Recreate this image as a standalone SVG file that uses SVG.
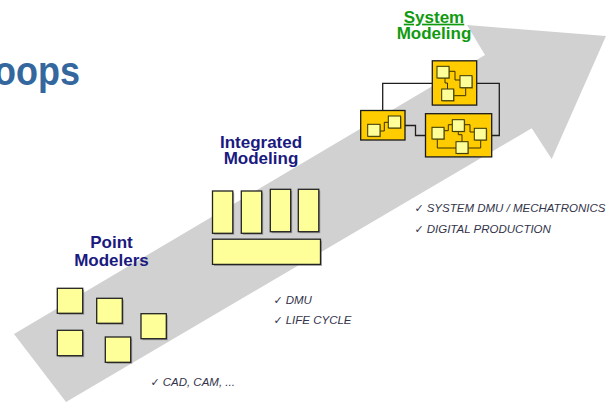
<svg xmlns="http://www.w3.org/2000/svg" width="611" height="402" viewBox="0 0 611 402">
<style>
.bg{fill:#ffffff}
.arrow{fill:#d1d1d1}
.title{font-family:"Liberation Sans",Arial,sans-serif;font-weight:bold;font-size:17px;text-anchor:middle}
.navy{fill:#1a1a80}
.green{fill:#109a10}
.head{font-family:"Liberation Sans",Arial,sans-serif;font-weight:bold;font-size:36px;fill:#34679e}
.bul{font-family:"Liberation Sans",Arial,sans-serif;font-style:italic;font-size:11.5px;fill:#33334a}
.ck{font-family:"DejaVu Sans",sans-serif;font-style:normal;font-size:11px}
.sq{fill:#ffff99;stroke:#222222;stroke-width:1.3}
.shd{fill:#6e6e6e;opacity:0.55}
.gold{fill:#ffcc00;stroke:#1a1a1a;stroke-width:1.3}
.mini{fill:#ffff99;stroke:#333300;stroke-width:1}
.mshd{fill:#8a7000;opacity:0.6}
.wire{fill:none;stroke:#3a3000;stroke-width:1}
.conn{fill:none;stroke:#1e1e1e;stroke-width:1.3}
</style>
<rect class="bg" x="0" y="0" width="611" height="402"/>
<polygon id="arrow" class="arrow" points="14,334 66,402 531.7,128.3 551.7,159 606,36 467,25 485,55"/>
<text class="head" transform="translate(-6,85) scale(1,1.15)" x="0" y="0">oops</text>

<g id="point-modelers">
<text class="title navy" x="111.5" y="248">Point</text>
<text class="title navy" x="111.5" y="266">Modelers</text>
</g>
<g id="pm1"><rect class="shd" x="58.8" y="289.8" width="25.4" height="25"/><rect class="sq" x="57.3" y="288.3" width="25.4" height="25"/></g>
<g id="pm2"><rect class="shd" x="98.2" y="299.8" width="25.6" height="25"/><rect class="sq" x="96.7" y="298.3" width="25.6" height="25"/></g>
<g id="pm3"><rect class="shd" x="142.5" y="315.2" width="25.3" height="25"/><rect class="sq" x="141" y="313.7" width="25.3" height="25"/></g>
<g id="pm4"><rect class="shd" x="58.8" y="331.8" width="25.4" height="25.4"/><rect class="sq" x="57.3" y="330.3" width="25.4" height="25.4"/></g>
<g id="pm5"><rect class="shd" x="106.8" y="338.5" width="25.4" height="25.3"/><rect class="sq" x="105.3" y="337" width="25.4" height="25.3"/></g>
<g id="pm-notes">
<text class="bul" x="150.5" y="386"><tspan class="ck">✓</tspan><tspan x="162.7">CAD, CAM, ...</tspan></text>
</g>

<g id="integrated-modeling">
<text class="title navy" x="261" y="147.7">Integrated</text>
<text class="title navy" x="261" y="164">Modeling</text>
</g>
<g id="im1"><rect class="shd" x="213.8" y="192.5" width="20.4" height="42.3"/><rect class="sq" x="212.5" y="191" width="20.3" height="42.3"/></g>
<g id="im2"><rect class="shd" x="242.8" y="192.5" width="20.4" height="42.3"/><rect class="sq" x="241.3" y="191" width="20.4" height="42.3"/></g>
<g id="im3"><rect class="shd" x="271.8" y="190.8" width="20.4" height="42.4"/><rect class="sq" x="270.3" y="189.3" width="20.4" height="42.4"/></g>
<g id="im4"><rect class="shd" x="299.8" y="190.8" width="20.5" height="42.4"/><rect class="sq" x="298.3" y="189.3" width="20.5" height="42.4"/></g>
<g id="im5"><rect class="shd" x="214" y="240.8" width="108" height="25.2"/><rect class="sq" x="212.5" y="239.2" width="108" height="25.2"/></g>
<g id="im-notes">
<text class="bul" x="273.5" y="304"><tspan class="ck">✓</tspan><tspan x="285.7">DMU</tspan></text>
<text class="bul" x="273.5" y="324"><tspan class="ck">✓</tspan><tspan x="285.7">LIFE CYCLE</tspan></text>
</g>

<g id="system-modeling">
<text class="title green" x="434" y="22.7" text-decoration="underline">System</text>
<text class="title green" x="434" y="39.3">Modeling</text>
</g>
<g id="connectors">
<polyline class="conn" points="432.3,83.3 382.7,83.3 382.7,110.5"/>
<polyline class="conn" points="476.7,83.3 499.3,83.3 499.3,135.5 491.7,135.5"/>
<polyline class="conn" points="405,125.5 415.5,125.5 415.5,135.5 425.5,135.5"/>
</g>
<g id="sm-top">
<rect class="gold" x="432.3" y="60.8" width="44.4" height="44.3"/>
<polyline class="wire" points="449,71.3 455,71.3 455,80 460,80"/>
<polyline class="wire" points="445,78 445,83 447.5,83 447.5,89"/>
<polyline class="wire" points="453.7,95.7 465.7,95.7 465.7,88"/>
<rect class="mshd" x="438" y="67.3" width="12" height="11.7"/><rect class="mini" x="437" y="66.3" width="12" height="11.7"/>
<rect class="mshd" x="461" y="76.7" width="12" height="12"/><rect class="mini" x="460" y="75.7" width="12" height="12"/>
<rect class="mshd" x="442.7" y="90" width="12" height="11.7"/><rect class="mini" x="441.7" y="89" width="12" height="11.7"/>
</g>
<g id="sm-left">
<rect class="gold" x="360.7" y="110.5" width="44.3" height="29.5"/>
<polyline class="wire" points="380,131 384.3,131 384.3,122.3 388.3,122.3"/>
<rect class="mshd" x="368.7" y="125.3" width="12.3" height="12"/><rect class="mini" x="367.7" y="124.3" width="12.3" height="12"/>
<rect class="mshd" x="389.3" y="117" width="12.3" height="12"/><rect class="mini" x="388.3" y="116" width="12.3" height="12"/>
</g>
<g id="sm-right">
<rect class="gold" x="425.5" y="113.7" width="66.2" height="43.2"/>
<polyline class="wire" points="444,130.7 448.3,130.7 448.3,124.7 452.3,124.7"/>
<polyline class="wire" points="464.3,124.7 470,124.7 470,132 474.3,132"/>
<polyline class="wire" points="458.3,131.3 458.3,134.7 462,134.7 462,141.7"/>
<polyline class="wire" points="437.3,139 437.3,148 456,148"/>
<polyline class="wire" points="468,148 480.7,148 480.7,140"/>
<rect class="mshd" x="453.3" y="120.7" width="12" height="11.7"/><rect class="mini" x="452.3" y="119.7" width="12" height="11.7"/>
<rect class="mshd" x="433" y="128.3" width="12" height="11.7"/><rect class="mini" x="432" y="127.3" width="12" height="11.7"/>
<rect class="mshd" x="475.3" y="129.3" width="12" height="11.7"/><rect class="mini" x="474.3" y="128.3" width="12" height="11.7"/>
<rect class="mshd" x="457" y="142.7" width="12" height="11.7"/><rect class="mini" x="456" y="141.7" width="12" height="11.7"/>
</g>
<g id="sm-notes">
<text class="bul" x="414.5" y="212.3"><tspan class="ck">✓</tspan><tspan x="426.7">SYSTEM DMU / MECHATRONICS</tspan></text>
<text class="bul" x="414.5" y="232.7"><tspan class="ck">✓</tspan><tspan x="426.7">DIGITAL PRODUCTION</tspan></text>
</g>
</svg>
